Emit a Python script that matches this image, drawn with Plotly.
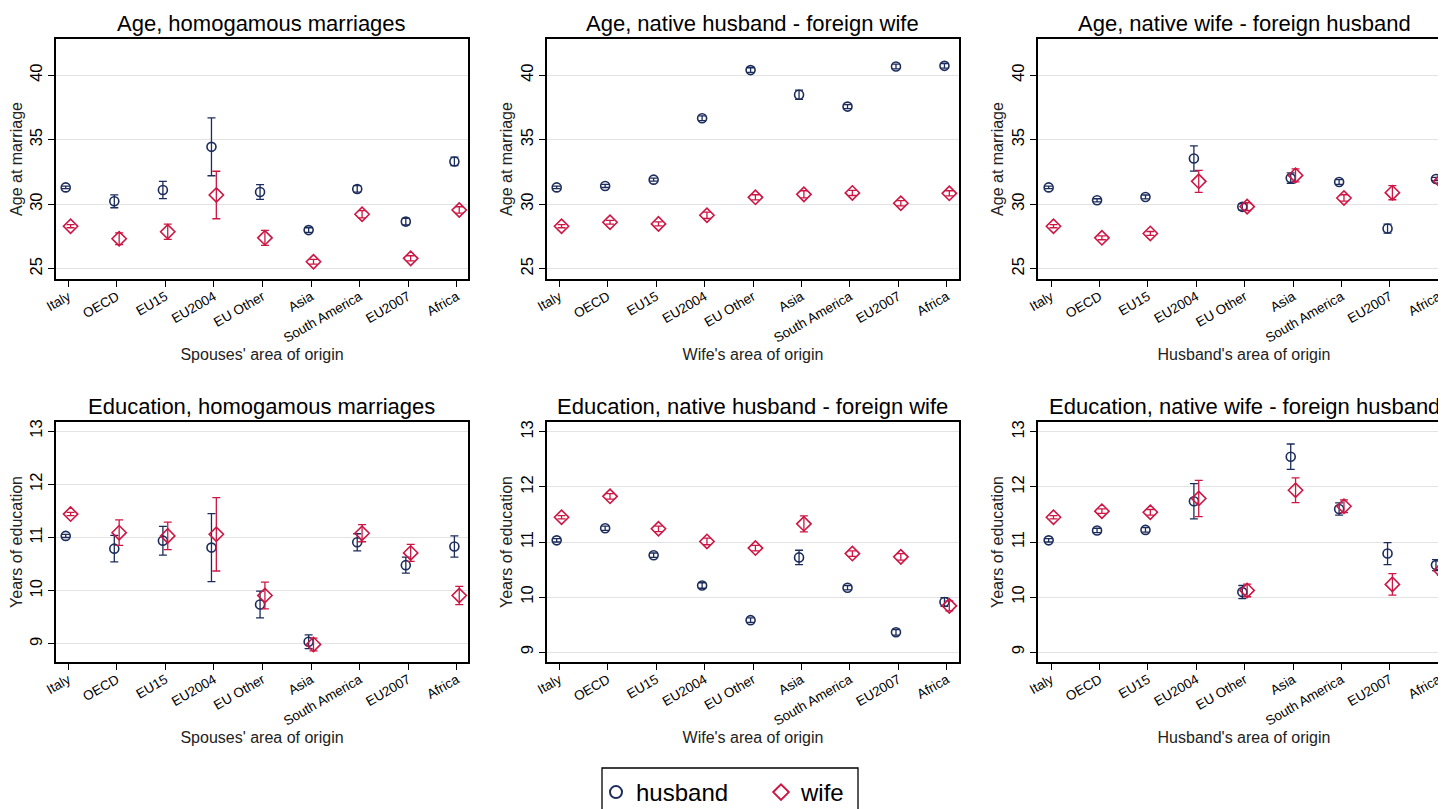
import plotly.graph_objects as go
from plotly.subplots import make_subplots

# categories (same order on every panel)
areas = ["Italy", "OECD", "EU15", "EU2004", "EU Other", "Asia",
         "South America", "EU2007", "Africa"]

# age at marriage: means and half-width of the confidence band
age_homo_husband = [31.30, 30.22, 31.10, 34.44, 30.94, 27.99, 31.18, 28.65, 33.31]
age_homo_husband_ci = [0.10, 0.50, 0.67, 2.24, 0.57, 0.18, 0.25, 0.25, 0.33]
age_homo_wife = [28.29, 27.32, 27.86, 30.71, 27.39, 25.54, 29.22, 25.80, 29.55]
age_homo_wife_ci = [0.12, 0.46, 0.59, 1.84, 0.58, 0.18, 0.28, 0.20, 0.25]

age_nhfw_husband = [31.30, 31.41, 31.90, 36.66, 40.39, 38.48, 37.56, 40.67, 40.72]
age_nhfw_husband_ci = [0.10, 0.12, 0.12, 0.18, 0.18, 0.36, 0.15, 0.18, 0.18]
age_nhfw_wife = [28.29, 28.60, 28.47, 29.14, 30.53, 30.76, 30.87, 30.07, 30.84]
age_nhfw_wife_ci = [0.12, 0.15, 0.15, 0.25, 0.20, 0.28, 0.20, 0.20, 0.20]

age_nwfh_husband = [31.30, 30.30, 30.56, 33.54, 29.79, 32.02, 31.72, 28.11, 31.95]
age_nwfh_husband_ci = [0.10, 0.12, 0.15, 0.98, 0.25, 0.40, 0.18, 0.35, 0.12]
age_nwfh_wife = [28.29, 27.39, 27.73, 31.77, 29.81, 32.23, 30.48, 30.89, 31.79]
age_nwfh_wife_ci = [0.12, 0.15, 0.15, 0.85, 0.30, 0.50, 0.25, 0.55, 0.15]

# years of education
edu_homo_husband = [11.03, 10.79, 10.94, 10.81, 9.74, 9.04, 10.91, 10.48, 10.83]
edu_homo_husband_ci = [0.03, 0.25, 0.27, 0.64, 0.25, 0.13, 0.16, 0.15, 0.20]
edu_homo_wife = [11.44, 11.09, 11.03, 11.06, 9.91, 8.99, 11.08, 10.71, 9.91]
edu_homo_wife_ci = [0.03, 0.24, 0.26, 0.69, 0.25, 0.12, 0.16, 0.16, 0.17]

edu_nhfw_husband = [11.03, 11.25, 10.76, 10.21, 9.58, 10.72, 10.17, 9.36, 9.91]
edu_nhfw_husband_ci = [0.03, 0.04, 0.04, 0.05, 0.04, 0.13, 0.04, 0.05, 0.08]
edu_nhfw_wife = [11.45, 11.83, 11.24, 11.01, 10.89, 11.33, 10.79, 10.73, 9.84]
edu_nhfw_wife_ci = [0.03, 0.05, 0.05, 0.06, 0.05, 0.145, 0.05, 0.06, 0.09]

edu_nwfh_husband = [11.03, 11.21, 11.22, 11.74, 10.09, 12.55, 11.60, 10.79, 10.58]
edu_nwfh_husband_ci = [0.03, 0.04, 0.04, 0.32, 0.12, 0.23, 0.11, 0.20, 0.10]
edu_nwfh_wife = [11.45, 11.56, 11.54, 11.79, 10.12, 11.94, 11.65, 10.23, 10.48]
edu_nwfh_wife_ci = [0.03, 0.04, 0.05, 0.33, 0.115, 0.225, 0.115, 0.195, 0.08]

titles = ["Age, homogamous marriages", "Age, native husband - foreign wife",
          "Age, native wife - foreign husband", "Education, homogamous marriages",
          "Education, native husband - foreign wife",
          "Education, native wife - foreign husband"]
x_titles = ["Spouses' area of origin", "Wife's area of origin",
            "Husband's area of origin"]
y_titles = ["Age at marriage", "Years of education"]

panels = [
    (age_homo_husband, age_homo_husband_ci, age_homo_wife, age_homo_wife_ci),
    (age_nhfw_husband, age_nhfw_husband_ci, age_nhfw_wife, age_nhfw_wife_ci),
    (age_nwfh_husband, age_nwfh_husband_ci, age_nwfh_wife, age_nwfh_wife_ci),
    (edu_homo_husband, edu_homo_husband_ci, edu_homo_wife, edu_homo_wife_ci),
    (edu_nhfw_husband, edu_nhfw_husband_ci, edu_nhfw_wife, edu_nhfw_wife_ci),
    (edu_nwfh_husband, edu_nwfh_husband_ci, edu_nwfh_wife, edu_nwfh_wife_ci),
]

W, H = 1446, 809
NAVY = "#1c2d5c"
RED = "#cc1744"
FONT = "Liberation Sans, Arial, sans-serif"
offset = 0.05

# plot frames in figure pixels (page has an 8px body margin)
col_px = [(48, 460), (539, 951), (1030, 1442)]
row_px = [(31, 271), (414, 654)]
x_ranges = [[-0.25, 8.23], [-0.25, 8.25], [-0.27, 8.24]]
y_ranges = [[24.2, 42.8], [24.2, 42.8], [24.2, 42.8],
            [8.66, 13.17], [8.82, 13.18], [8.82, 13.18]]

fig = make_subplots(rows=2, cols=3)

idx = list(range(len(areas)))
for p, (hm, hci, wm, wci) in enumerate(panels):
    r, c = p // 3 + 1, p % 3 + 1
    fig.add_trace(go.Scatter(
        x=[i - offset for i in idx], y=hm, mode="markers", name="husband",
        showlegend=(p == 0),
        marker=dict(symbol="circle-open", size=9, color=NAVY, line=dict(width=1.6)),
        error_y=dict(type="data", array=hci, color=NAVY, thickness=1.3, width=4),
    ), row=r, col=c)
    fig.add_trace(go.Scatter(
        x=[i + offset for i in idx], y=wm, mode="markers", name="wife",
        showlegend=(p == 0),
        marker=dict(symbol="diamond-open", size=11, color=RED, line=dict(width=1.6)),
        error_y=dict(type="data", array=wci, color=RED, thickness=1.3, width=4),
    ), row=r, col=c)

    left, right = col_px[c - 1]
    top, bottom = row_px[r - 1]
    fig.update_xaxes(
        domain=[left / W, right / W], range=x_ranges[c - 1], automargin=False,
        tickvals=idx, ticktext=areas, tickangle=-30, ticklabelstandoff=-3,
        ticks="outside", ticklen=6, tickwidth=1.3, tickcolor="black",
        showline=True, linecolor="black", linewidth=1.5, mirror=True,
        showgrid=False, zeroline=False,
        tickfont=dict(size=13.5, color="black", family=FONT),
        title=dict(text=x_titles[c - 1], font=dict(size=16, color="#222", family=FONT),
                   standoff=0),
        row=r, col=c)
    fig.update_yaxes(
        domain=[1 - bottom / H, 1 - top / H], range=y_ranges[p], automargin=False,
        dtick=5 if r == 1 else 1, tickangle=-90,
        ticks="outside", ticklen=6, tickwidth=1.3, tickcolor="black",
        showline=True, linecolor="black", linewidth=1.5, mirror=True,
        showgrid=True, gridcolor="#e3e3e3", gridwidth=1.3, zeroline=False,
        tickfont=dict(size=16.5, color="black", family=FONT),
        title=dict(text=y_titles[r - 1], font=dict(size=16, color="#222", family=FONT),
                   standoff=1),
        row=r, col=c)

    fig.add_annotation(
        text=titles[p], xref="paper", yref="paper",
        x=(left + right) / 2 / W, y=1 - (top - 1) / H,
        xanchor="center", yanchor="bottom", showarrow=False,
        font=dict(size=22, color="black", family=FONT))

# legend frame
fig.add_shape(type="rect", xref="paper", yref="paper",
              x0=594 / W, x1=850 / W, y0=-0.05, y1=1 - 760 / H,
              line=dict(color="black", width=1.3), fillcolor="white", layer="below")

fig.update_layout(
    width=W, height=H,
    margin=dict(l=0, r=0, t=0, b=0),
    paper_bgcolor="white", plot_bgcolor="white",
    font=dict(family=FONT, color="black"),
    legend=dict(orientation="h", x=588 / W, y=1 - 762 / H,
                xanchor="left", yanchor="top",
                bgcolor="rgba(0,0,0,0)", borderwidth=0,
                font=dict(size=24, color="black", family=FONT),
                itemsizing="constant", itemwidth=30,
                entrywidth=120, entrywidthmode="pixels",
                traceorder="normal"),
)

fig.write_html("out.html")
